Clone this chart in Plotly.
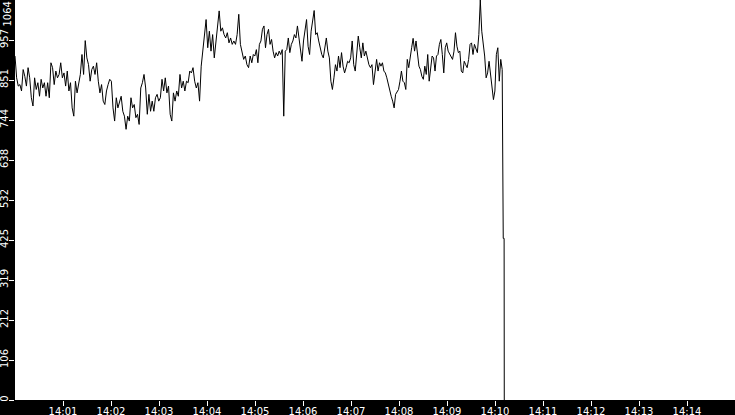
import numpy as np
import pandas as pd
import plotly.graph_objects as go

# --- data ---
seg1_values = [915,857,835,839,822,879,861,835,884,857,
               804,782,857,826,844,808,853,830,844,808,
               844,804,897,884,839,875,857,866,897,857,
               870,835,875,822,844,777,755,848,817,844,
               866,919,866,956,910,892,848,879,888,866,
               897,848,817,839,795,786,822,839,853,848,
               777,742,804,777,795,808,768,755,720,755,
               742,804,777,786,751,760,733,830,844,866,
               830,760,813,768,795,768,804,813,795,804,
               853,822,857,817,835,760,742,817,795,822,
               808,866,830,848,822,848,844,875,870,884,
               848,830,844,795,888,928,972,1012,937,981,
               928,972,910,955,995,1035,981,990,972,963,
               977,950,963,946,955,946,972,1026,946,924,
               906,915,892,884,915]
seg2_values = [897,919,915,932,897,946,955,986,995,937,
               972,986,946,959,928,910,924,915,928,919,
               932,755,928,932,963,924,946,955,972,963,
               995,968,941,901,955,981,1012,941,919,981,
               1008,1036,972,977,955,932,919,910,937,963,
               928,910,848,826,857,892,875,915,884,924,
               888,870,884,901,897,910,955,892,875,928,
               968,937,910,950,915,928,906,892,884,892,
               839,866]
seg3_values = [906,875,897,888,897,875,870,857,839,826,
               808,795,777,813,822,826,848,875,848,844,
               826,906,884,919,937,962,928,955,919,888,
               879,861,853,888,866,919,848,884,915,910,
               875,915,919,946,959,919,870,937,950,928,
               919,915,906,928,977,941,924,928,875,870,
               901,892,884,906,946,950,919,946,932,924,
               972,1064,981,946,915,857,870,901,866,830,
               799,822,919,937,848,906,879]
tail_times = ["2024-01-01T14:10:10.300", "2024-01-01T14:10:11.400", "2024-01-01T14:10:11.600"]
tail_values = [430, 430, 0]

seg_bounds = [("2024-01-01 14:00:00", "2024-01-01 14:04:54"),
              ("2024-01-01 14:04:56", "2024-01-01 14:07:30"),
              ("2024-01-01 14:07:32", "2024-01-01 14:10:09")]

y_tick_values = [0, 106.4, 212.8, 319.2, 425.6, 532, 638.4, 744.8, 851.2, 957.6, 1064]
y_tick_labels = ["0", "106", "212", "319", "425", "532", "638", "744", "851", "957", "1064"]
x_tick_labels = ["14:01", "14:02", "14:03", "14:04", "14:05", "14:06", "14:07",
                 "14:08", "14:09", "14:10", "14:11", "14:12", "14:13", "14:14"]

# --- build series ---
times = []
values = []
for (start, end), seg in zip(seg_bounds, [seg1_values, seg2_values, seg3_values]):
    t = pd.date_range(start, end, periods=len(seg))
    times.extend(list(t))
    values.extend(seg)
times.extend(pd.to_datetime(tail_times, format="ISO8601"))
values.extend(tail_values)

x_tick_vals = ["2024-01-01 " + s + ":00" for s in x_tick_labels]

fig = go.Figure()
fig.add_trace(go.Scatter(x=times, y=values, mode="lines",
                         line=dict(color="black", width=1), hoverinfo="skip"))

font = dict(family="DejaVu Sans", size=10, color="white")

fig.update_layout(
    width=735, height=415,
    margin=dict(l=15, r=0, t=0, b=15, pad=0, autoexpand=False),
    paper_bgcolor="black", plot_bgcolor="white",
    showlegend=False,
    font=font,
    xaxis=dict(type="date", range=["2024-01-01 14:00:00", "2024-01-01 14:15:00"],
               tickvals=x_tick_vals, ticktext=x_tick_labels, automargin=False,
               ticks="outside", ticklen=5, tickcolor="white", tickwidth=1,
               ticklabelstandoff=-3,
               showgrid=False, zeroline=False, showline=False, tickfont=font),
    yaxis=dict(range=[0, 1064], tickvals=y_tick_values[:-1], ticktext=y_tick_labels[:-1],
               automargin=False, ticklabelstandoff=-3,
               tickangle=-90, ticks="outside", ticklen=5, tickcolor="white", tickwidth=1,
               showgrid=False, zeroline=False, showline=False, tickfont=font),
)
# top label kept inside the page, as in the reference
fig.add_annotation(x=0, xref="paper", xanchor="center", xshift=-8,
                   y=1, yref="paper", yanchor="top",
                   text=y_tick_labels[-1], textangle=-90, showarrow=False, font=font)

fig.write_html("out.html", config={"displayModeBar": False},
               post_script="document.body.style.margin='0';document.body.style.overflow='hidden';")
